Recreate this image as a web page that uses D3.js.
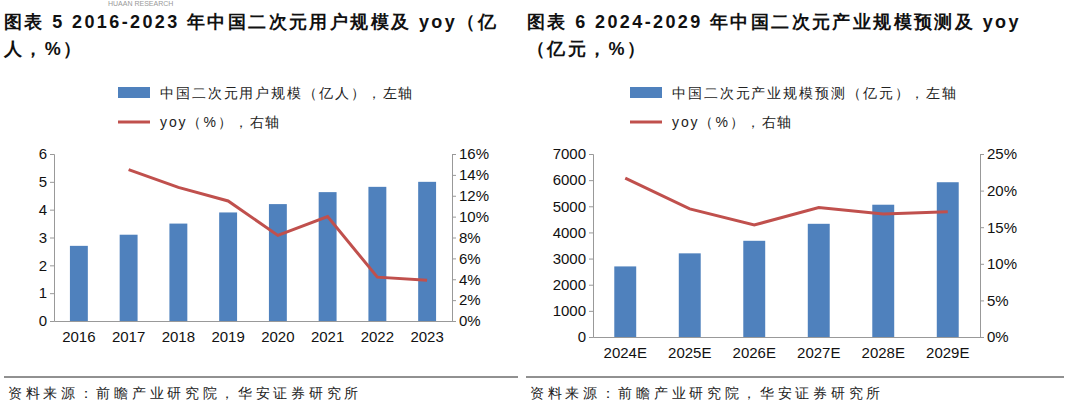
<!DOCTYPE html>
<html><head><meta charset="utf-8">
<script src="https://cdn.jsdelivr.net/npm/d3@7"></script>
<style>body{margin:0;background:#fff}text{font-family:"Liberation Sans",Arial,sans-serif}</style>
</head><body><svg id="c" width="1068" height="409"></svg>
<script>
const years1=["2016","2017","2018","2019","2020","2021","2022","2023"];
const users=[2.7,3.1,3.5,3.9,4.2,4.63,4.82,5.0];
const yoy1=[null,14.5,12.8,11.5,8.2,10.0,4.2,3.9];
const years2=["2024E","2025E","2026E","2027E","2028E","2029E"];
const market=[2700,3200,3680,4330,5060,5920];
const yoy2=[21.7,17.5,15.3,17.7,16.8,17.1];
const ticks1L=[0,1,2,3,4,5,6], ticks1R=[0,2,4,6,8,10,12,14,16];
const ticks2L=[0,1000,2000,3000,4000,5000,6000,7000], ticks2R=[0,5,10,15,20,25];

const svg=d3.select("#c");
const cjk='"Noto Sans CJK SC",sans-serif';
svg.append("text").attr("x",108).attr("y",6).attr("font-size",7).attr("fill","#999").text("HUAAN RESEARCH");

function title(x,l1,l2){
  const t=svg.append("text").attr("x",x).attr("font-size",18).attr("font-weight","bold").attr("font-family",cjk).attr("fill","#111").attr("letter-spacing",2.4);
  t.append("tspan").attr("x",x).attr("y",28).text(l1);
  t.append("tspan").attr("x",x).attr("y",55).text(l2);
}
title(4,"图表 5 2016-2023 年中国二次元用户规模及 yoy（亿","人，%）");
title(527,"图表 6 2024-2029 年中国二次元产业规模预测及 yoy","（亿元，%）");

function chart(o){
  const x=d3.scaleBand().domain(o.cats).range([o.x0,o.x1]).paddingInner(o.pad).paddingOuter(o.pad/2);
  const yL=d3.scaleLinear().domain([0,o.maxL]).range([o.y1,o.y0]);
  const yR=d3.scaleLinear().domain([0,o.maxR]).range([o.y1,o.y0]);
  const g=svg.append("g");
  g.selectAll(".b").data(o.bars).join("rect").attr("x",(d,i)=>x(o.cats[i])).attr("width",x.bandwidth())
    .attr("y",d=>yL(d)).attr("height",d=>o.y1-yL(d)).attr("fill","#4f81bd");
  const ax=g.append("g").attr("transform",`translate(${o.x0},0)`).call(d3.axisLeft(yL).tickValues(o.tL).tickSize(4).tickFormat(d3.format("d")));
  const ar=g.append("g").attr("transform",`translate(${o.x1},0)`).call(d3.axisRight(yR).tickValues(o.tR).tickSize(4).tickFormat(d=>d+"%"));
  const ab=g.append("g").attr("transform",`translate(0,${o.y1})`).call(d3.axisBottom(x).tickSize(0).tickPadding(10));
  [ax,ar,ab].forEach(a=>{a.selectAll("path,line").attr("stroke","#999");a.selectAll("text").attr("font-size",15).attr("fill","#111");});
  const pts=o.line.map((d,i)=>[d,i]).filter(p=>p[0]!=null);
  g.append("path").attr("d",d3.line().x(p=>x(o.cats[p[1]])+x.bandwidth()/2).y(p=>yR(p[0]))(pts))
    .attr("fill","none").attr("stroke","#c0504d").attr("stroke-width",3);
  g.append("rect").attr("x",o.lx).attr("y",87).attr("width",32).attr("height",11).attr("fill","#4f81bd");
  g.append("text").attr("x",o.lx+42).attr("y",98).attr("font-size",14).attr("font-family",cjk).attr("fill","#222").attr("letter-spacing",1.9).text(o.leg1);
  g.append("line").attr("x1",o.lx).attr("x2",o.lx+32).attr("y1",122).attr("y2",122).attr("stroke","#c0504d").attr("stroke-width",3);
  g.append("text").attr("x",o.lx+42).attr("y",127).attr("font-size",14).attr("font-family",cjk).attr("fill","#222").attr("letter-spacing",1.9).text("yoy（%），右轴");
  g.append("line").attr("x1",o.sx).attr("x2",o.sx2).attr("y1",377).attr("y2",377).attr("stroke","#222").attr("stroke-width",1);
  g.append("text").attr("x",o.sx+4).attr("y",398).attr("font-size",14).attr("font-family",cjk).attr("fill","#222").attr("letter-spacing",3.7).text("资料来源：前瞻产业研究院，华安证券研究所");
}
chart({cats:years1,bars:users,line:yoy1,x0:54,x1:452,y0:154,y1:321,maxL:6,maxR:16,pad:0.64,tL:ticks1L,tR:ticks1R,
  lx:118,leg1:"中国二次元用户规模（亿人），左轴",sx:4,sx2:518});
chart({cats:years2,bars:market,line:yoy2,x0:593,x1:980,y0:154,y1:337,maxL:7000,maxR:25,pad:0.66,tL:ticks2L,tR:ticks2R,
  lx:630,leg1:"中国二次元产业规模预测（亿元），左轴",sx:526,sx2:1064});
</script></body></html>
